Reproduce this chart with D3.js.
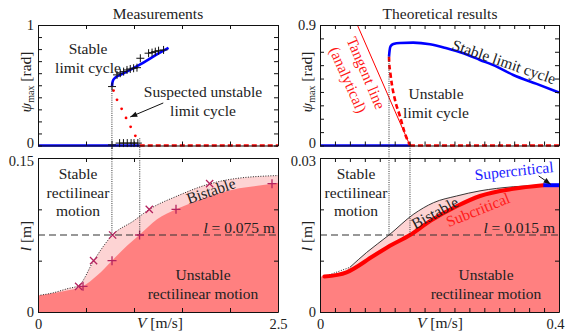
<!DOCTYPE html>
<html>
<head>
<meta charset="utf-8">
<script src="https://cdn.jsdelivr.net/npm/d3@7"></script>
<style>
  body { margin: 0; background: #fff; }
  text { font-family: "Liberation Serif", "DejaVu Serif", serif; fill: #222; }
  .axis text { font-size: 14.5px; fill: #222; }
  .axis path, .axis line { stroke: #111; }
</style>
</head>
<body>
<svg id="chart" width="567" height="335"></svg>
<script>
// ---- measurements, psi_max vs V
const measVc = [0.77, 1.06];
const measStableV = [0.771, 0.775, 0.785, 0.80, 0.84, 0.93, 1.07, 1.2, 1.36];
const measStablePsi = [0.49, 0.52, 0.545, 0.56, 0.58, 0.615, 0.675, 0.738, 0.81];
const measUnstV = [0.787, 0.823, 0.871, 0.917, 0.965, 1.014];
const measUnstPsi = [0.456, 0.379, 0.304, 0.229, 0.155, 0.08];
const measPlusV = [0.771, 0.823, 0.857, 0.892, 0.927, 0.961, 0.996, 1.031, 1.066, 1.152, 1.188, 1.222, 1.256, 1.308];
const measPlusPsi = [0.489, 0.586, 0.6, 0.613, 0.627, 0.635, 0.641, 0.646, 0.724, 0.766, 0.771, 0.779, 0.787, 0.793];
const measZeroV = [0.771, 0.85, 0.89, 0.93, 0.97, 1.0, 1.04];
const measZeroPsi = [0.005, 0.02, 0.02, 0.02, 0.02, 0.02, 0.02];

// ---- measurements, stability map l vs V
const bistUpV = [0, 0.15, 0.302, 0.424, 0.58, 0.778, 0.997, 1.16, 1.448, 1.788, 2.038, 2.5];
const bistUpL = [0.0161, 0.0185, 0.0226, 0.0258, 0.05, 0.0752, 0.0888, 0.1, 0.1129, 0.1248, 0.1297, 0.1329];
const bistLowV = [0, 0.302, 0.469, 0.615, 0.771, 0.927, 1.058, 1.24, 1.4375, 1.69, 2.038, 2.4375, 2.5];
const bistLowL = [0.0161, 0.021, 0.0252, 0.0355, 0.05, 0.0645, 0.0752, 0.0903, 0.1, 0.1097, 0.1194, 0.1248, 0.1258];
const crossV = [0.423, 0.579, 0.777, 1.159, 1.788];
const crossL = [0.025, 0.05, 0.075, 0.1, 0.125];
const plusV = [0.469, 0.771, 1.058, 1.4375, 2.4375];
const plusL = [0.025, 0.05, 0.075, 0.1, 0.125];
const measLevel = 0.075;

// ---- theory, psi_max vs V
const thVc = [0.1155, 0.1506];
const thStableV = [0.1155, 0.1165, 0.118, 0.1227, 0.1339, 0.1561, 0.1841, 0.212, 0.24, 0.2678, 0.2957, 0.3235, 0.3626, 0.4];
const thStablePsi = [0.664, 0.71, 0.74, 0.758, 0.766, 0.768, 0.756, 0.726, 0.689, 0.639, 0.589, 0.527, 0.46, 0.395];
const thUnstV = [0.1155, 0.1158, 0.1175, 0.12, 0.1255, 0.134, 0.142, 0.1506];
const thUnstPsi = [0.664, 0.62, 0.55, 0.465, 0.341, 0.216, 0.092, 0];
const tangentV = [0.0625, 0.1506];
const tangentPsi = [0.9, 0];

// ---- theory, stability map l vs V
const subV = [0.0073, 0.0446, 0.0892, 0.117, 0.1506, 0.184, 0.2287, 0.2678, 0.3235, 0.3737];
const subL = [0.0069, 0.00774, 0.0109, 0.0129, 0.015, 0.0177, 0.0206, 0.0226, 0.024, 0.0247];
const superV = [0.3737, 0.4];
const superL = [0.0247, 0.0247];
const thUpV = [0.0073, 0.05, 0.078, 0.1155, 0.156, 0.19, 0.2287, 0.2678, 0.3235, 0.3737];
const thUpL = [0.0069, 0.0087, 0.0116, 0.015, 0.019, 0.0213, 0.0226, 0.0236, 0.0244, 0.0247];
const thLevel = 0.015;

const svg = d3.select("#chart");
const zip = (a, b) => a.map((v, i) => [v, b[i]]);

const xL = d3.scaleLinear().domain([0, 2.5]).range([38, 278]);
const xR = d3.scaleLinear().domain([0, 0.4]).range([320, 559]);
const yTL = d3.scaleLinear().domain([0, 1]).range([145.5, 25]);
const yTR = d3.scaleLinear().domain([0, 0.9]).range([145.5, 25]);
const yBL = d3.scaleLinear().domain([0, 0.15]).range([312, 158]);
const yBR = d3.scaleLinear().domain([0, 0.03]).range([312, 158]);

const defs = svg.append("defs");
defs.append("marker").attr("id", "arr").attr("viewBox", "0 0 10 10")
  .attr("refX", 10).attr("refY", 5).attr("markerWidth", 8).attr("markerHeight", 7)
  .attr("orient", "auto")
  .append("path").attr("d", "M0,1L10,5L0,9z").attr("fill", "#111");

function lineOf(x, y) {
  return d3.line().x(d => x(d[0])).y(d => y(d[1])).curve(d3.curveMonotoneX);
}
function areaOf(x, y) {
  return d3.area().x(d => x(d[0])).y0(y(0)).y1(d => y(d[1])).curve(d3.curveMonotoneX);
}

function axes(x, y, xt, yt, xlab, ylab) {
  const [yb, yt0] = y.range();
  const [xa, xb] = x.range();
  const g = svg.append("g").attr("class", "axis");
  g.append("g").attr("class", "xax").attr("transform", `translate(0,${yb})`)
    .call(d3.axisBottom(x).tickValues(xt).tickSize(-4).tickSizeOuter(0).tickPadding(7)
      .tickFormat((d, i) => xlab ? xlab(d, i) : ""));
  g.append("g").attr("transform", `translate(0,${yt0})`)
    .call(d3.axisTop(x).tickValues(xt).tickSize(-4).tickSizeOuter(0).tickFormat(""));
  g.append("g").attr("class", "yax").attr("transform", `translate(${xa},0)`)
    .call(d3.axisLeft(y).tickValues(yt).tickSize(-4).tickSizeOuter(0).tickPadding(4)
      .tickFormat((d, i) => ylab(d, i)));
  g.append("g").attr("transform", `translate(${xb},0)`)
    .call(d3.axisRight(y).tickValues(yt).tickSize(-4).tickSizeOuter(0).tickFormat(""));
  return g;
}

function label(x, y, lines, opts = {}) {
  const t = svg.append("text").attr("text-anchor", "middle")
    .attr("font-size", opts.size || 15.5)
    .attr("transform", `translate(${x},${y}) rotate(${opts.rot || 0})`)
    .style("fill", opts.color || "#222");
  lines.forEach((s, i) => {
    t.append("tspan").attr("x", 0).attr("y", i * (opts.lh || 18.5)).attr("dy", "0.33em").text(s);
  });
  return t;
}

function plusPath(x, y, v, w, s) {
  return v.map((d, i) => `M${x(d) - s},${y(w[i])}H${x(d) + s}M${x(d)},${y(w[i]) - s}V${y(w[i]) + s}`).join("");
}
function crossPath(x, y, v, w, s) {
  return v.map((d, i) => `M${x(d) - s},${y(w[i]) - s}L${x(d) + s},${y(w[i]) + s}M${x(d) + s},${y(w[i]) - s}L${x(d) - s},${y(w[i]) + s}`).join("");
}

// ================= bottom-left: measured stability map
svg.append("path").datum(zip(bistUpV, bistUpL)).attr("d", areaOf(xL, yBL)).attr("fill", "#fdd3d3");
svg.append("path").datum(zip(bistLowV, bistLowL)).attr("d", areaOf(xL, yBL)).attr("fill", "#ff8080");
svg.append("path").datum(zip(bistUpV, bistUpL)).attr("d", lineOf(xL, yBL))
  .attr("fill", "none").attr("stroke", "#222").attr("stroke-width", 1).attr("stroke-dasharray", "1,1.5");
svg.append("line").attr("x1", xL(0)).attr("x2", xL(2.5)).attr("y1", yBL(measLevel)).attr("y2", yBL(measLevel))
  .attr("stroke", "#333").attr("stroke-width", 1.2).attr("stroke-dasharray", "7,4");
svg.append("path").attr("d", crossPath(xL, yBL, crossV, crossL, 3.6))
  .attr("stroke", "#b5235f").attr("stroke-width", 1.3).attr("fill", "none");
svg.append("path").attr("d", plusPath(xL, yBL, plusV, plusL, 4.5))
  .attr("stroke", "#b5235f").attr("stroke-width", 1.3).attr("fill", "none");

// ================= bottom-right: theoretical stability map
svg.append("path").datum(zip(thUpV, thUpL)).attr("d", areaOf(xR, yBR)).attr("fill", "#fdd3d3");
svg.append("path").datum([[0, subL[0]]].concat(zip(subV, subL), zip(superV, superL).slice(1)))
  .attr("d", areaOf(xR, yBR)).attr("fill", "#ff8080");
svg.append("path").datum(zip(thUpV, thUpL).slice(0, 2)).attr("d", lineOf(xR, yBR))
  .attr("fill", "none").attr("stroke", "#222").attr("stroke-width", 1).attr("stroke-dasharray", "1,1.5");
svg.append("path").datum(zip(thUpV, thUpL).slice(1)).attr("d", lineOf(xR, yBR))
  .attr("fill", "none").attr("stroke", "#222").attr("stroke-width", 0.9);
svg.append("line").attr("x1", xR(0)).attr("x2", xR(0.4)).attr("y1", yBR(thLevel)).attr("y2", yBR(thLevel))
  .attr("stroke", "#333").attr("stroke-width", 1.2).attr("stroke-dasharray", "7,4");
svg.append("path").datum(zip(subV, subL)).attr("d", lineOf(xR, yBR))
  .attr("fill", "none").attr("stroke", "#ff0000").attr("stroke-width", 4).attr("stroke-linecap", "round");
svg.append("path").datum(zip(superV, superL)).attr("d", lineOf(xR, yBR))
  .attr("fill", "none").attr("stroke", "#0000ff").attr("stroke-width", 4);

// ================= top-left: measured amplitudes
svg.append("line").attr("x1", xL(0)).attr("x2", xL(measVc[1])).attr("y1", yTL(0)).attr("y2", yTL(0))
  .attr("stroke", "#0000ff").attr("stroke-width", 2.6);
svg.append("line").attr("x1", xL(measVc[1])).attr("x2", xL(2.5)).attr("y1", yTL(0)).attr("y2", yTL(0))
  .attr("stroke", "#ff0000").attr("stroke-width", 2.6).attr("stroke-dasharray", "5,3");
svg.append("path").datum(zip(measStableV, measStablePsi)).attr("d", lineOf(xL, yTL))
  .attr("fill", "none").attr("stroke", "#0000ff").attr("stroke-width", 2.6);
svg.selectAll(".udot").data(zip(measUnstV, measUnstPsi)).enter().append("circle")
  .attr("cx", d => xL(d[0])).attr("cy", d => yTL(d[1])).attr("r", 1.4).attr("fill", "#ff0000");
svg.append("path").attr("d", plusPath(xL, yTL, measPlusV, measPlusPsi, 4))
  .attr("stroke", "#111").attr("stroke-width", 1).attr("fill", "none");
svg.append("path").attr("d", plusPath(xL, yTL, measZeroV, measZeroPsi, 4))
  .attr("stroke", "#111").attr("stroke-width", 1).attr("fill", "none");

// ================= top-right: theoretical amplitudes
svg.append("line").attr("x1", xR(0)).attr("x2", xR(thVc[1])).attr("y1", yTR(0)).attr("y2", yTR(0))
  .attr("stroke", "#0000ff").attr("stroke-width", 2.6);
svg.append("line").attr("x1", xR(thVc[1])).attr("x2", xR(0.4)).attr("y1", yTR(0)).attr("y2", yTR(0))
  .attr("stroke", "#ff0000").attr("stroke-width", 2.6).attr("stroke-dasharray", "5,3");
svg.append("path").datum(zip(tangentV, tangentPsi)).attr("d", d3.line().x(d => xR(d[0])).y(d => yTR(d[1])))
  .attr("stroke", "#ff0000").attr("stroke-width", 1);
svg.append("path").datum(zip(thUnstV, thUnstPsi)).attr("d", lineOf(xR, yTR))
  .attr("fill", "none").attr("stroke", "#ff0000").attr("stroke-width", 2.6).attr("stroke-dasharray", "5,3");
svg.append("path").datum(zip(thStableV, thStablePsi)).attr("d", lineOf(xR, yTR))
  .attr("fill", "none").attr("stroke", "#0000ff").attr("stroke-width", 2.6);

// ================= dotted guide lines between panels
const guides = [
  [xL, measVc[0], yTL(measStablePsi[0]), yBL(measLevel)],
  [xL, measVc[1], yTL(0.06), yBL(measLevel)],
  [xR, thVc[0], yTR(thStablePsi[0]), yBR(thLevel)],
  [xR, thVc[1], yTR(0), yBR(thLevel)]
];
guides.forEach(([x, v, ya, yb]) => {
  svg.append("line").attr("x1", x(v)).attr("x2", x(v)).attr("y1", ya).attr("y2", yb)
    .attr("stroke", "#333").attr("stroke-width", 1).attr("stroke-dasharray", "1,1.2");
});

// ================= axes
const stepTicks = (a, b, s) => d3.range(0, Math.round((b - a) / s) + 1).map(i => a + i * s);
const ends = (fmtA, fmtB, n) => (d, i) => i === 0 ? fmtA : (i === n - 1 ? fmtB : "");
const tTL = stepTicks(0, 1, 0.1), tTR = stepTicks(0, 0.9, 0.1);
const tBL = stepTicks(0, 0.15, 0.05), tBR = stepTicks(0, 0.03, 0.01);
const vL = stepTicks(0, 2.5, 0.5), vR = stepTicks(0, 0.4, 0.025);
const gTL = axes(xL, yTL, vL, tTL, null, ends("0", "1", tTL.length));
const gTR = axes(xR, yTR, vR, tTR, null, ends("0", "0.9", tTR.length));
const gBL = axes(xL, yBL, vL, tBL, ends("0", "2.5", vL.length), ends("0", "0.15", tBL.length));
const gBR = axes(xR, yBR, vR, tBR, ends("0", "0.4", vR.length), ends("0", "0.03", tBR.length));
// nudge the crowded labels between the stacked panels apart
[gTL, gTR].forEach(g => g.select(".yax").selectAll(".tick text").filter((d, i) => i === 0).attr("dy", "0.15em"));
[gBL, gBR].forEach(g => g.select(".yax").selectAll(".tick text").filter((d, i, n) => i === n.length - 1).attr("dy", "0.55em"));
// keep the last right-hand tick label inside the window
gBR.select(".xax").selectAll(".tick text").filter((d, i, n) => i === n.length - 1).attr("dx", -4);

// ================= titles and axis labels
label(158, 14, ["Measurements"]);
label(440, 14, ["Theoretical results"]);

function psiLabel(x, y) {
  const t = svg.append("text").attr("text-anchor", "middle").attr("font-size", 15.5)
    .attr("transform", `translate(${x},${y}) rotate(-90)`).attr("dy", "0.33em");
  t.append("tspan").attr("font-style", "italic").text("ψ");
  t.append("tspan").attr("font-size", 10).attr("dy", 3).text("max");
  t.append("tspan").attr("dy", -3).text(" [rad]");
}
psiLabel(26, 82);
psiLabel(307, 82);

function lLabel(x, y) {
  const t = svg.append("text").attr("text-anchor", "middle").attr("font-size", 15.5)
    .attr("transform", `translate(${x},${y}) rotate(-90)`).attr("dy", "0.33em");
  t.append("tspan").attr("font-style", "italic").text("l");
  t.append("tspan").text(" [m]");
}
lLabel(26, 236);
lLabel(307, 236);

function vLabel(x, y) {
  const t = svg.append("text").attr("text-anchor", "middle").attr("font-size", 15.5)
    .attr("x", x).attr("y", y);
  t.append("tspan").attr("font-style", "italic").text("V");
  t.append("tspan").text(" [m/s]");
}
vLabel(160, 328);
vLabel(440, 328);

function levelLabel(x, y, val) {
  const t = svg.append("text").attr("text-anchor", "end").attr("font-size", 15.5)
    .attr("x", x).attr("y", y);
  t.append("tspan").attr("font-style", "italic").text("l");
  t.append("tspan").text(" = " + val + " m");
}
levelLabel(275, 233, measLevel);
levelLabel(555, 233, thLevel);

// ================= annotations
label(88, 49, ["Stable", "limit cycle"]);
label(203, 92, ["Suspected unstable", "limit cycle"]);
svg.append("line").attr("x1", xL(1.305)).attr("y1", yTL(0.353)).attr("x2", xL(0.961)).attr("y2", yTL(0.237))
  .attr("stroke", "#111").attr("stroke-width", 1).attr("marker-end", "url(#arr)");

label(436, 94, ["Unstable", "limit cycle"]);
label(504, 62, ["Stable limit cycle"], { rot: 19 });
label(366, 73, ["Tangent line"], { rot: 67, color: "#ff1a1a" });
label(348, 80, ["(analytical)"], { rot: 66, color: "#ff1a1a" });

label(78, 174, ["Stable", "rectilinear", "motion"]);
label(356, 174, ["Stable", "rectilinear", "motion"]);
label(203, 275, ["Unstable", "rectilinear motion"]);
label(486, 275, ["Unstable", "rectilinear motion"]);
label(211, 191, ["Bistable"], { rot: -19 });
label(435, 213, ["Bistable"], { rot: -28 });
label(478, 210, ["Subcritical"], { rot: -22, color: "#ff1a1a" });
label(514, 171, ["Supercritical"], { rot: -6, color: "#1a1aff" });
svg.append("line").attr("x1", xR(0.366)).attr("y1", yBR(0.0265)).attr("x2", xR(0.386)).attr("y2", yBR(0.0249))
  .attr("stroke", "#111").attr("stroke-width", 1).attr("marker-end", "url(#arr)");
</script>
</body>
</html>
